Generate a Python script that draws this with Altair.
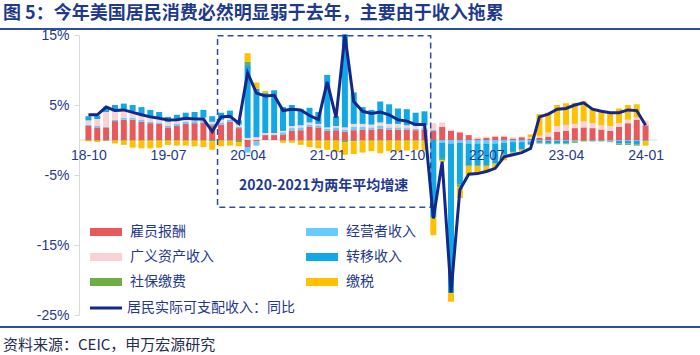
import altair as alt
import pandas as pd

# ---------------- data ----------------
months = [p.strftime("%y-%m") for p in pd.period_range("2018-10", "2024-01", freq="M")]
tick_labels = ["18-10", "19-07", "20-04", "21-01", "21-10", "22-07", "23-04", "24-01"]

series_names = ["雇员报酬", "经营者收入", "广义资产收入", "转移收入", "社保缴费", "缴税"]
series_colors = ["#E8595C", "#66CCFF", "#F9D2D3", "#12A8E6", "#70AD47", "#FFC000"]
# legend is laid out column by column: left column first, then right column
legend_order = ["雇员报酬", "广义资产收入", "社保缴费", "经营者收入", "转移收入", "缴税"]

employee = [2.0, 1.8, 1.8, 2.7, 2.9, 2.9, 2.6, 2.4, 2.3, 1.8, 2.0, 2.3, 2.4, 2.5, 2.1, 2.2, 2.6, 1.7,
            -1.0, -0.2, 0.7, 0.7, 0.8, 1.3, 1.4, 1.9, 1.8, 1.3, 1.4, 1.2, 1.4, 1.5, 1.5, 1.6, 1.5, 1.5, 1.5, 1.4, 1.5,
            1.3, 1.9, 1.3, 1.1, 0.7, 0.2, 0.3, 0.5, 0.5, 0.2, 0.4, 0.2,
            0.3, 0.5, 1.2, 1.3, 1.7, 1.8, 1.7, 1.5, 1.3, 1.9, 2.4, 2.9, 2.1]
business = [0.2, 0.2, 0.1, 0.2, 0.3, 0.3, 0.3, 0.2, 0.2, 0.2, 0.3, 0.3, 0.3, 0.3, 0.2, 0.3, 0.3, 0.2,
            -0.8, -0.6, 0.1, 0.1, 0.3, 0.4, 0.4, 0.3, 0.3, 0.3, 0.4, 0.3, 0.5, 0.4, 0.3, 0.4, 0.3, 0.3, 0.2, 0.2, 0.2,
            0.2, -0.4, -0.5, -0.4, -0.5, -0.5, -0.5, -0.5, -0.4, -0.3, -0.3, -0.2,
            -0.1, -0.1, -0.1, -0.1, -0.1, 0.0, 0.0, 0.0, -0.1, -0.1, -0.1, -0.1, 0.0]
asset = [0.6, 1.0, 2.1, 1.2, 1.0, 0.9, 0.8, 0.7, 0.7, 0.6, 0.6, 0.5, 0.4, 0.4, 0.3, 0.4, 0.3, 0.3,
         0.3, 0.4, 0.2, 0.2, 0.2, 0.3, 0.3, 0.3, 0.2, 0.2, 0.2, 0.3, 0.4, 0.4, 0.4, 0.5, 0.5, 0.5, 0.4, 0.4, 0.4,
         0.9, 0.6, 0.2, 0.1, 0.0, 0.2, 0.2, 0.1, 0.1, 0.2, 0.1, 0.2,
         0.3, 0.55, 0.8, 0.85, 0.6, 0.85, 0.7, 0.6, 0.7, 0.5, 0.5, 0.3, 0.7]
transfer = [0.6, 0.5, 0.5, 0.9, 1.0, 0.9, 1.0, 1.0, 0.8, 0.7, 0.7, 0.8, 0.9, 1.1, 0.8, 1.0, 1.0, 0.6,
            10.4, 6.9, 5.7, 6.1, 3.4, 3.0, 2.3, 2.1, 1.7, 7.5, 1.4, 13.3, 4.5, 2.4, 2.1, 3.0, 2.8, 2.2, 2.3, 1.9, 2.0,
            -11.0, -2.3, -21.2, -6.0, -3.1, -3.1, -3.1, -2.8, -1.7, -1.4, -1.0, -0.4,
            -0.3, -0.4, -0.4, -0.4, -0.1, 0.0, -0.1, -0.1, -0.1, -0.4, -0.4, -0.5, -0.1]
social = [-0.1, -0.1, -0.1, -0.1, -0.1, -0.1, -0.1, -0.1, -0.1, -0.1, -0.1, -0.1, -0.1, -0.1, -0.2, -0.1, -0.1, -0.3,
          0.5, 0.0, 0.0, 0.0, -0.1, -0.1, -0.1, -0.1, -0.1, -0.1, -0.1, -0.3, -0.2, -0.1, -0.1, -0.1, -0.1, -0.1, -0.1, -0.1, -0.1,
          -0.1, -0.2, -0.2, -0.3, -0.2, -0.2, -0.2, -0.1, -0.1, -0.1, -0.1, -0.1,
          -0.1, -0.1, -0.1, -0.1, -0.2, -0.2, -0.1, -0.1, -0.1, -0.2, -0.2, -0.2, -0.1]
tax = [-0.1, -0.2, 0.3, -0.4, -0.6, -1.0, -1.1, -1.1, -1.0, -0.6, -0.7, -0.7, -0.8, -0.9, -1.2, -0.8, -0.7, -0.6,
       1.2, 0.9, 0.3, 0.0, -0.3, -0.3, -0.6, -0.9, -1.1, -1.3, -1.6, -1.8, -1.8, -1.7, -1.5, -1.8, -1.5, -1.5, -1.4, -1.3, -1.4,
       -2.5, -0.2, -1.2, -1.6, -1.2, -0.8, -0.7, -0.6, -0.7, -0.2, -0.2, 0.4,
       3.1, 2.85, 3.0, 3.1, 3.0, 2.9, 2.1, 2.1, 2.0, 2.1, 2.1, 1.9, -0.6]

line_name = "居民实际可支配收入：同比"
income_yoy = [3.6, 3.6, 4.7, 4.2, 4.3, 3.95, 3.6, 3.3, 3.1, 2.85, 2.9, 3.1, 3.0, 3.0, 1.2, 3.3, 3.4, 2.4,
              9.6, 6.7, 6.3, 6.4, 4.2, 4.4, 4.3, 3.5, 2.9, 8.3, 3.2, 15.0, 5.5, 4.1, 3.8, 4.0, 3.6, 2.9, 2.7, 2.2, 2.2,
              -11.2, -3.1, -21.8, -7.1, -4.9, -4.8, -4.5, -4.05, -2.4, -2.1, -1.8, -1.2,
              3.3, 3.7, 4.4, 4.5, 5.0, 5.3, 4.4, 4.1, 3.9, 3.9, 4.3, 4.2, 2.1]

y_ticks = [-25, -15, -5, 5, 15]
title_text = "图 5：今年美国居民消费必然明显弱于去年，主要由于收入拖累"
source_text = "资料来源：CEIC，申万宏源研究"
box_label = "2020-2021为两年平均增速"
# annotation box (data coordinates: month index / percent)
box = {"x1": [14.6], "x2": [38.7], "y1": [14.9], "y2": [-9.6]}
box_text_pos = {"x": [26.6], "y": [-6.6], "t": [box_label]}

# ---------------- build tables ----------------
series_values = [employee, business, asset, transfer, social, tax]
rows = []
for j, (name, vals) in enumerate(zip(series_names, series_values)):
    for i, v in enumerate(vals):
        rows.append({"idx": i, "month": months[i], "series": name, "ord": j, "value": v})
bars_df = pd.DataFrame(rows)
line_df = pd.DataFrame({"idx": list(range(len(months))), "value": income_yoy, "name": line_name})

navy = "#1F3A8C"
line_color = "#12288A"
rule_color = "#2E4D9C"
cjk = "Noto Sans CJK SC"
latin = "Liberation Sans"

tick_idx = [months.index(t) for t in tick_labels]
label_expr = "[" + ",".join("'" + m + "'" for m in months) + "][datum.value]"

x_enc = alt.X("idx:Q",
              scale=alt.Scale(domain=[-0.5, len(months) - 0.5], nice=False, zero=False),
              axis=alt.Axis(values=tick_idx, labelExpr=label_expr, offset=-175, domain=False,
                            ticks=False, grid=False, labelPadding=8, labelFontSize=14,
                            labelFont=latin, labelColor=navy, title=None, zindex=1))
y_scale = alt.Scale(domain=[-25, 15], nice=False)
y_axis = alt.Axis(values=y_ticks, labelExpr="datum.value + '%'", grid=False,
                  domainColor="#D9D9D9", tickColor="#D9D9D9", tickSize=5, labelPadding=5,
                  labelFontSize=14, labelFont=latin, labelColor=navy, title=None)

rect_path = "M-4,-1H4V1H-4Z"
line_path = "M-4,0H4"

color_map = dict(zip(series_names, series_colors))

zero_rule = alt.Chart(pd.DataFrame({"z": [0]})).mark_rule(color="#D9D9D9", strokeWidth=1).encode(
    y=alt.Y("z:Q", scale=y_scale, axis=y_axis), x=alt.value(0), x2=alt.value(578))

bars = alt.Chart(bars_df).mark_bar(size=6).encode(
    x=x_enc,
    y=alt.Y("value:Q", stack="zero", scale=y_scale, axis=y_axis),
    color=alt.Color("series:N",
                    scale=alt.Scale(domain=legend_order, range=[color_map[n] for n in legend_order]),
                    legend=alt.Legend(title=None, orient="none", legendX=20, legendY=190, columns=2,
                                      symbolType=rect_path, symbolSize=64, symbolStrokeWidth=0,
                                      symbolOpacity=1, labelFont=cjk, labelFontSize=14, labelColor=navy,
                                      labelOffset=17, rowPadding=11, columnPadding=92, gridAlign="all",
                                      padding=0, labelLimit=300)),
    order=alt.Order("ord:Q", sort="ascending"))

box_mark = alt.Chart(pd.DataFrame(box)).mark_rect(fillOpacity=0, stroke=rule_color, strokeWidth=1.5,
                                                  strokeDash=[6, 4]).encode(
    x="x1:Q", x2="x2:Q", y="y1:Q", y2="y2:Q")

box_txt = alt.Chart(pd.DataFrame(box_text_pos)).mark_text(
    font=cjk, fontSize=14, fontWeight="bold", color=navy).encode(x="x:Q", y="y:Q", text="t:N")

line = alt.Chart(line_df).mark_line(strokeWidth=3).encode(
    x="idx:Q", y="value:Q",
    stroke=alt.Stroke("name:N", scale=alt.Scale(domain=[line_name], range=[line_color]),
                      legend=alt.Legend(title=None, orient="none", legendX=20, legendY=266,
                                        symbolType=line_path, symbolSize=64, symbolStrokeWidth=3,
                                        labelFont=cjk, labelFontSize=14, labelColor=navy,
                                        labelOffset=14, padding=0, labelLimit=400)))

title_mark = alt.Chart(pd.DataFrame({"t": [title_text]})).mark_text(
    align="left", baseline="middle", font=cjk, fontSize=18, fontWeight="bold", color=navy).encode(
    x=alt.value(-76), y=alt.value(-21), text="t:N")
title_rule = alt.Chart(pd.DataFrame({"t": [0]})).mark_rule(color=rule_color, strokeWidth=2).encode(
    x=alt.value(-79), x2=alt.value(621), y=alt.value(-6))
bottom_rule = alt.Chart(pd.DataFrame({"t": [0]})).mark_rule(color=rule_color, strokeWidth=2).encode(
    x=alt.value(-79), x2=alt.value(621), y=alt.value(292))
source_mark = alt.Chart(pd.DataFrame({"t": [source_text]})).mark_text(
    align="left", baseline="middle", font=cjk, fontSize=15, color="#262C50").encode(
    x=alt.value(-76), y=alt.value(310), text="t:N")

chart = alt.layer(zero_rule, bars, box_mark, box_txt, line, title_mark, title_rule, bottom_rule,
                  source_mark).resolve_scale(color="independent").properties(
    width=576, height=280, autosize=alt.AutoSizeParams(type="none"),
    padding={"left": 79, "top": 35, "right": 45, "bottom": 40},
    background="white").configure_view(stroke=None)

chart.save("out.html", embed_options={"renderer": "svg", "actions": False})
